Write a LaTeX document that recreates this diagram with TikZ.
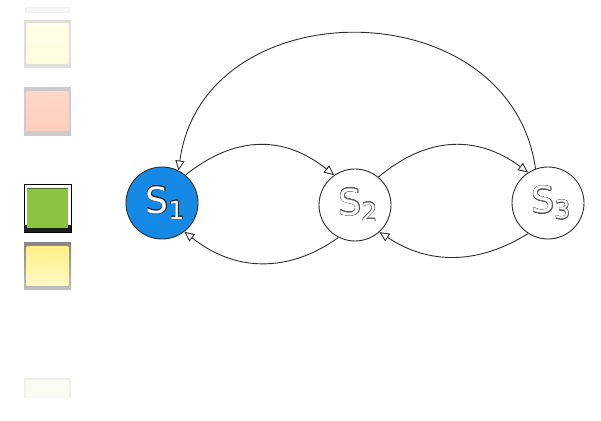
\documentclass[tikz,border=0pt]{standalone}
\usepackage{fontspec}
\setmainfont{DejaVu Sans}
\usepackage{contour}
\usetikzlibrary{arrows.meta}
\definecolor{edgegray}{HTML}{2E2E2E}
\definecolor{stateblue}{HTML}{1589E6}
\definecolor{salmontop}{RGB}{255,216,202}
\definecolor{salmonbot}{RGB}{255,204,188}
\definecolor{leafgreen}{RGB}{139,196,64}
\definecolor{leafedge}{RGB}{70,110,30}
\definecolor{butteryel}{RGB}{255,239,136}
\definecolor{paleyel}{RGB}{255,249,196}
\definecolor{creamtop}{RGB}{255,254,232}
\definecolor{creambot}{RGB}{255,251,221}
\definecolor{faintgreen}{RGB}{250,251,243}
\contourlength{0.45pt}
\newcommand{\statelabel}[2]{{\color{white}\contour{#1}{\fontsize{36}{36}\selectfont S\raisebox{-6pt}{\fontsize{25}{25}\selectfont #2}}}}
\tikzset{
  state/.style={circle, minimum size=72pt, inner sep=0pt, draw=edgegray, line width=0.9pt},
  statetext/.style={inner sep=0pt, xshift=3pt},
  trans/.style={draw=edgegray, line width=0.9pt, -{Triangle[length=10pt,width=9pt,fill=white]}},
}
\begin{document}
\begin{tikzpicture}[x=1pt,y=1pt]
\useasboundingbox (0,0) rectangle (601,420);

% palette swatches on the left
\fill[gray!12] (25,407) rectangle (70,413);
\fill[gray!6] (26.5,408) rectangle (68.5,412);

\fill[gray!25] (24,352) rectangle (71,400);
\shade[top color=creamtop, bottom color=creambot] (26.7,356.7) rectangle (68.3,396.7);

\fill[gray!40] (24,284.3) rectangle (71,332.7);
\shade[top color=salmontop, bottom color=salmonbot] (26.7,289) rectangle (68.3,328.3);

\filldraw[fill=white, draw=black, line width=0.8pt] (24,187.7) rectangle (71,236);
\fill[black!88] (24,187.7) rectangle (71,195);
\fill[leafgreen] (26.7,191.7) rectangle (68.3,231.7);
\draw[leafedge, line width=0.6pt] (26.7,231.4) -- (68.3,231.4);

\shade[top color=gray!95, bottom color=gray!50] (24,130) rectangle (71,177.7);
\shade[top color=butteryel, bottom color=paleyel] (26.7,134) rectangle (68.3,173.3);

\fill[gray!12] (24,22) rectangle (71,42.3);
\fill[faintgreen] (26,22) rectangle (69,40.3);

% states
\node[state, fill=stateblue] (s1) at (162,217) {};
\node[state, fill=white] (s2) at (355,215) {};
\node[state, fill=white] (s3) at (548,217) {};
\node[statetext] (t1) at (s1) {\statelabel{black!85}{1}};
\node[statetext] (t2) at (s2) {\statelabel{black!65}{2}};
\node[statetext] (t3) at (s3) {\statelabel{black!65}{3}};

% transitions
\draw[trans] (s1.50) .. controls +(50,40) and +(-50,40) .. (s2.125);
\draw[trans] (s2.243) .. controls +(-50,-36) and +(50,-40) .. (s1.-52);
\draw[trans] (s2.50) .. controls +(50,42) and +(-50,37) .. (s3.123);
\draw[trans] (s3.-123) .. controls +(-50,-31) and +(50,-33) .. (s2.-48);
\draw[trans] (s3.110) .. controls +(-25.7,180.7) and +(24.7,182.5) .. (s1.63);
\end{tikzpicture}
\end{document}
